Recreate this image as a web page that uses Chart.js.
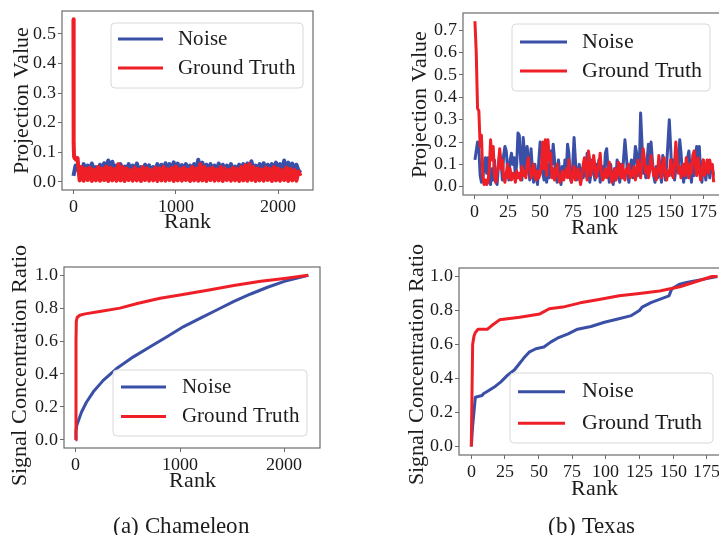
<!DOCTYPE html>
<html>
<head>
<meta charset="utf-8">
<script src="https://cdn.jsdelivr.net/npm/chart.js@4.4.0/dist/chart.umd.min.js"></script>
<style>
  @font-face {
    font-family: 'PaperSerif';
    src: local('Liberation Serif'), local('LiberationSerif'), local('LiberationSerif-Regular'), local('Liberation Serif Regular');
  }
  html, body { margin: 0; padding: 0; width: 719px; height: 535px; overflow: hidden; background: #fff; }
  canvas { position: absolute; }
  .caption {
    position: absolute; font-family: PaperSerif, 'Liberation Serif', 'Times New Roman', serif;
    font-size: 23px; line-height: 23px; color: #1c1c1c; white-space: nowrap;
    transform: translateX(-50%);
  }
</style>
</head>
<body>
<canvas id="chamProj" width="340" height="250" style="left:0;top:0"></canvas>
<canvas id="texasProj" width="340" height="255" style="left:400px;top:0"></canvas>
<canvas id="chamRatio" width="345" height="300" style="left:0;top:235px"></canvas>
<canvas id="texasRatio" width="345" height="300" style="left:395px;top:235px"></canvas>
<div class="caption" style="left:181px;top:514px">(a) Chameleon</div>
<div class="caption" style="left:591px;top:514px">(b) Texas</div>

<script>
// ---- data ----

// Chameleon, projection value. Noise sampled every 20 ranks from rank 0
const CHAM_STEP = 20;
const chamNoise = [
  0.02, 0.055, 0.04, 0.05, 0.036, 0.06, 0.04, 0.055, 0.038, 0.062,
  0.04, 0.05, 0.036, 0.058, 0.04, 0.063, 0.042, 0.072, 0.042, 0.068,
  0.04, 0.055, 0.036, 0.06, 0.04, 0.052, 0.042, 0.06, 0.04, 0.055,
  0.039, 0.062, 0.04, 0.05, 0.042, 0.058, 0.04, 0.056, 0.036, 0.05,
  0.04, 0.06, 0.042, 0.058, 0.04, 0.063, 0.036, 0.06, 0.04, 0.066,
  0.042, 0.062, 0.04, 0.057, 0.036, 0.06, 0.04, 0.055, 0.042, 0.06,
  0.04, 0.075, 0.039, 0.065, 0.04, 0.058, 0.042, 0.06, 0.04, 0.055,
  0.036, 0.062, 0.04, 0.058, 0.042, 0.055, 0.04, 0.06, 0.036, 0.052,
  0.04, 0.058, 0.042, 0.06, 0.04, 0.062, 0.036, 0.07, 0.04, 0.055,
  0.042, 0.06, 0.04, 0.063, 0.036, 0.058, 0.04, 0.06, 0.042, 0.065,
  0.04, 0.06, 0.036, 0.072, 0.04, 0.065, 0.042, 0.062, 0.04, 0.058,
  0.039, 0.03
];
// ground truth: the spike at the start, then every 20 ranks from rank 60
const chamTruthHeadRank = [0, 1, 3, 6, 12, 25, 40];
const chamTruthHead = [0.55, 0.3, 0.13, 0.085, 0.08, 0.075, 0.08];
const CHAM_TRUTH_START = 60;
const chamTruthBody = [
  0.005, 0.05, 0.004, 0.045, 0.006, 0.048, 0.003, 0.042, 0.005, 0.05,
  0.004, 0.045, 0.006, 0.052, 0.003, 0.048, 0.005, 0.044, 0.004, 0.06,
  0.005, 0.05, 0.003, 0.045, 0.006, 0.04, 0.004, 0.048, 0.005, 0.042,
  0.003, 0.05, 0.006, 0.045, 0.004, 0.04, 0.005, 0.048, 0.003, 0.045,
  0.005, 0.05, 0.004, 0.043, 0.006, 0.047, 0.003, 0.052, 0.005, 0.044,
  0.004, 0.048, 0.006, 0.042, 0.003, 0.05, 0.005, 0.045, 0.004, 0.06,
  0.005, 0.05, 0.003, 0.044, 0.006, 0.048, 0.004, 0.042, 0.005, 0.05,
  0.003, 0.045, 0.006, 0.04, 0.004, 0.048, 0.005, 0.044, 0.003, 0.05,
  0.005, 0.055, 0.004, 0.06, 0.006, 0.05, 0.003, 0.045, 0.005, 0.042,
  0.004, 0.048, 0.006, 0.044, 0.003, 0.05, 0.005, 0.045, 0.004, 0.04,
  0.006, 0.048, 0.003, 0.044, 0.005, 0.04, 0.004, 0.035, 0.02
];

// Texas, projection value, one value per rank 0..183
const texasNoise = [
  0.12, 0.16, 0.20, 0.17, 0.05, 0.02, 0.03, 0.10, 0.13, 0.06,
  0.13, 0.04, 0.01, 0.08, 0.03, 0.12, 0.02, 0.01, 0.09, 0.15,
  0.12, 0.03, 0.14, 0.18, 0.16, 0.08, 0.03, 0.12, 0.15, 0.10,
  0.13, 0.05, 0.10, 0.24, 0.23, 0.12, 0.03, 0.22, 0.15, 0.05,
  0.18, 0.12, 0.03, 0.17, 0.08, 0.02, 0.10, 0.04, 0.01, 0.12,
  0.20, 0.18, 0.06, 0.03, 0.08, 0.02, 0.10, 0.04, 0.16, 0.10,
  0.19, 0.12, 0.05, 0.02, 0.12, 0.07, 0.01, 0.09, 0.04, 0.12,
  0.06, 0.19, 0.15, 0.04, 0.02, 0.10, 0.22, 0.12, 0.03, 0.06,
  0.10, 0.02, 0.08, 0.04, 0.11, 0.05, 0.15, 0.10, 0.02, 0.06,
  0.12, 0.08, 0.03, 0.10, 0.05, 0.12, 0.02, 0.06, 0.09, 0.04,
  0.15, 0.17, 0.08, 0.02, 0.10, 0.05, 0.01, 0.08, 0.03, 0.12,
  0.06, 0.02, 0.10, 0.04, 0.13, 0.21, 0.14, 0.06, 0.02, 0.09,
  0.12, 0.04, 0.10, 0.18, 0.15, 0.05, 0.08, 0.33, 0.20, 0.06,
  0.10, 0.04, 0.12, 0.19, 0.08, 0.20, 0.12, 0.05, 0.02, 0.09,
  0.04, 0.11, 0.06, 0.02, 0.14, 0.08, 0.03, 0.10, 0.20, 0.30,
  0.18, 0.05, 0.12, 0.03, 0.08, 0.16, 0.10, 0.21, 0.15, 0.06,
  0.02, 0.10, 0.04, 0.13, 0.16, 0.08, 0.02, 0.11, 0.05, 0.14,
  0.18, 0.10, 0.18, 0.06, 0.02, 0.12, 0.08, 0.03, 0.09, 0.11,
  0.04, 0.10, 0.08, 0.05
];
const texasTruth = [
  0.74, 0.60, 0.35, 0.34, 0.18, 0.23, 0.05, 0.01, 0.03, 0.01,
  0.02, 0.08, 0.21, 0.12, 0.18, 0.05, 0.02, 0.06, 0.10, 0.17,
  0.08, 0.12, 0.04, 0.02, 0.06, 0.10, 0.04, 0.08, 0.03, 0.06,
  0.05, 0.02, 0.07, 0.04, 0.06, 0.03, 0.09, 0.05, 0.07, 0.04,
  0.10, 0.13, 0.08, 0.04, 0.06, 0.10, 0.05, 0.03, 0.07, 0.04,
  0.06, 0.09, 0.20, 0.08, 0.21, 0.05, 0.21, 0.12, 0.15, 0.04,
  0.08, 0.03, 0.06, 0.10, 0.05, 0.02, 0.04, 0.07, 0.03, 0.05,
  0.08, 0.04, 0.12, 0.06, 0.02, 0.05, 0.09, 0.03, 0.06, 0.08,
  0.04, 0.01, 0.06, 0.10, 0.13, 0.07, 0.03, 0.16, 0.12, 0.05,
  0.08, 0.14, 0.09, 0.04, 0.07, 0.10, 0.15, 0.06, 0.03, 0.05,
  0.08, 0.04, 0.06, 0.11, 0.05, 0.02, 0.06, 0.08, 0.03, 0.05,
  0.11, 0.07, 0.04, 0.10, 0.05, 0.03, 0.08, 0.06, 0.10, 0.04,
  0.07, 0.05, 0.09, 0.03, 0.06, 0.12, 0.08, 0.04, 0.10, 0.17,
  0.12, 0.06, 0.09, 0.04, 0.07, 0.14, 0.10, 0.05, 0.08, 0.03,
  0.06, 0.14, 0.09, 0.04, 0.08, 0.13, 0.06, 0.03, 0.07, 0.05,
  0.12, 0.08, 0.04, 0.10, 0.20, 0.12, 0.06, 0.09, 0.04, 0.07,
  0.10, 0.05, 0.13, 0.08, 0.04, 0.10, 0.06, 0.14, 0.16, 0.09,
  0.05, 0.13, 0.08, 0.03, 0.07, 0.12, 0.05, 0.09, 0.12, 0.06,
  0.12, 0.08, 0.10, 0.02
];

// signal concentration ratio (rank, value) pairs
const chamRatioNoiseRank = [0, 3, 10, 55, 103, 167, 264, 392, 553, 714, 875, 1035, 1196, 1357, 1517, 1678, 1839, 2000, 2230];
const chamRatioNoise = [0, 0.05, 0.086, 0.167, 0.228, 0.29, 0.361, 0.433, 0.504, 0.565, 0.626, 0.688, 0.739, 0.79, 0.841, 0.886, 0.927, 0.963, 1.0];
const chamRatioTruthRank = [0, 3, 6, 15, 40, 90, 230, 424, 600, 810, 1000, 1292, 1515, 1774, 2000, 2230];
const chamRatioTruth = [0, 0.6, 0.72, 0.745, 0.757, 0.765, 0.78, 0.8, 0.83, 0.86, 0.88, 0.912, 0.937, 0.963, 0.98, 1.0];

const texasRatioNoiseRank = [0, 1, 3, 8, 9, 13, 18, 22, 27, 32, 36, 39, 43, 48, 54, 59, 64, 72, 79, 89, 99, 109, 119, 125, 127, 134, 144, 147, 149, 155, 160, 170, 183];
const texasRatioNoise = [0, 0.12, 0.29, 0.30, 0.31, 0.33, 0.355, 0.38, 0.42, 0.45, 0.49, 0.52, 0.555, 0.575, 0.585, 0.614, 0.637, 0.663, 0.69, 0.706, 0.731, 0.75, 0.77, 0.8, 0.82, 0.848, 0.877, 0.886, 0.926, 0.955, 0.965, 0.98, 1.0];
const texasRatioTruthRank = [0, 1, 2, 3, 5, 12, 15, 21, 36, 51, 58, 68, 81, 95, 110, 125, 140, 155, 165, 179, 183];
const texasRatioTruth = [0, 0.6, 0.65, 0.67, 0.69, 0.69, 0.71, 0.745, 0.76, 0.78, 0.81, 0.82, 0.845, 0.865, 0.887, 0.9, 0.915, 0.94, 0.965, 1.0, 1.0];

const seriesLabels = ['Noise', 'Ground Truth'];

// tick labels
const chamRankTicks = [0, 1000, 2000];
const texasRankTicks = [0, 25, 50, 75, 100, 125, 150, 175];
const chamProjTicks = [0.0, 0.1, 0.2, 0.3, 0.4, 0.5];
const texasProjTicks = [0.0, 0.1, 0.2, 0.3, 0.4, 0.5, 0.6, 0.7];
const ratioTicks = [0.0, 0.2, 0.4, 0.6, 0.8, 1.0];

// ---- styling ----
const FONT = "PaperSerif, 'Liberation Serif', 'Times New Roman', serif";
const BLUE = '#3a4fa6';
const RED = '#ee1f26';
const FRAME = '#6b6b6b';
const TXT = '#1c1c1c';

function pairs(ranks, values) {
  return values.map((v, i) => ({ x: ranks[i], y: v }));
}
function stepped(values, start, step) {
  return values.map((v, i) => ({ x: start + i * step, y: v }));
}

// matplotlib-like full box round the plot area
const framePlugin = {
  id: 'frame',
  afterDatasetsDraw(chart) {
    const { ctx, chartArea: a } = chart;
    ctx.save();
    ctx.strokeStyle = FRAME;
    ctx.lineWidth = 1.2;
    ctx.strokeRect(a.left, a.top, a.right - a.left, a.bottom - a.top);
    ctx.restore();
  }
};

// y title drawn by hand, so a long title is not squeezed to the axis height
const yTitlePlugin = {
  id: 'yTitle',
  afterDraw(chart, args, opts) {
    const ctx = chart.ctx;
    ctx.save();
    ctx.translate(opts.x, opts.y);
    ctx.rotate(-Math.PI / 2);
    ctx.font = `${opts.size}px ${FONT}`;
    ctx.fillStyle = TXT;
    ctx.textAlign = 'center';
    ctx.textBaseline = 'middle';
    ctx.fillText(opts.text, 0, 0);
    ctx.restore();
  }
};

// legend box inside the plot
const boxLegendPlugin = {
  id: 'boxLegend',
  afterDraw(chart, args, opts) {
    const ctx = chart.ctx;
    ctx.save();
    ctx.beginPath();
    ctx.roundRect(opts.x, opts.y, opts.w, opts.h, 4);
    ctx.fillStyle = 'rgba(255,255,255,0.8)';
    ctx.fill();
    ctx.strokeStyle = '#d8d8d8';
    ctx.lineWidth = 1;
    ctx.stroke();
    ctx.font = `${opts.size}px ${FONT}`;
    ctx.textBaseline = 'middle';
    chart.data.datasets.forEach((ds, i) => {
      const y = opts.rows[i];
      ctx.strokeStyle = ds.borderColor;
      ctx.lineWidth = 3;
      ctx.beginPath();
      ctx.moveTo(opts.lineX[0], y);
      ctx.lineTo(opts.lineX[1], y);
      ctx.stroke();
      ctx.fillStyle = TXT;
      ctx.fillText(ds.label, opts.textX, y);
    });
    ctx.restore();
  }
};

function makePanel(id, p) {
  return new Chart(document.getElementById(id), {
    type: 'line',
    data: {
      datasets: [
        { label: seriesLabels[0], data: p.noise, borderColor: BLUE, borderWidth: p.lw, order: 1 },
        { label: seriesLabels[1], data: p.truth, borderColor: RED, borderWidth: p.lw, order: 0 }
      ]
    },
    options: {
      responsive: false,
      animation: false,
      elements: {
        point: { radius: 0 },
        line: { tension: 0, borderJoinStyle: 'round' }
      },
      layout: { padding: p.pad },
      scales: {
        x: {
          type: 'linear',
          min: p.x[0], max: p.x[1],
          afterBuildTicks: s => { s.ticks = p.xTicks.map(v => ({ value: v })); },
          afterFit: s => { s.height = p.xHeight; s.paddingLeft = 0; s.paddingRight = 0; },
          border: { display: false },
          grid: { display: true, drawOnChartArea: false, drawTicks: true, tickLength: 4, color: FRAME },
          ticks: {
            autoSkip: false, maxRotation: 0,
            padding: 2, color: TXT, font: { size: 18 },
            callback: v => String(v)
          },
          title: { display: true, text: 'Rank', color: TXT, font: { size: 22 }, padding: { top: 0, bottom: p.xTitlePad } }
        },
        y: {
          min: p.y[0], max: p.y[1],
          afterBuildTicks: s => { s.ticks = p.yTicks.map(v => ({ value: v })); },
          afterFit: s => { s.width = p.yWidth; s.paddingTop = 0; s.paddingBottom = 0; },
          border: { display: false },
          grid: { display: true, drawOnChartArea: false, drawTicks: true, tickLength: 4, color: FRAME },
          ticks: {
            autoSkip: false, padding: 2, color: TXT, font: { size: 18 },
            callback: v => v.toFixed(1)
          }
        }
      },
      plugins: {
        legend: { display: false },
        tooltip: { enabled: false },
        yTitle: p.yTitle,
        boxLegend: p.legend
      }
    },
    plugins: [framePlugin, yTitlePlugin, boxLegendPlugin]
  });
}

function drawAll() {
  Chart.defaults.font.family = FONT;

  makePanel('chamProj', {
    noise: stepped(chamNoise, 0, CHAM_STEP),
    truth: pairs(chamTruthHeadRank, chamTruthHead).concat(stepped(chamTruthBody, CHAM_TRUTH_START, CHAM_STEP)),
    lw: 4,
    pad: { left: 0, top: 11, right: 27, bottom: 0 },
    yWidth: 62, xHeight: 60, xTitlePad: 14.8,
    x: [-112, 2342], y: [-0.0275, 0.5775],
    xTicks: chamRankTicks, yTicks: chamProjTicks,
    yTitle: { text: 'Projection Value', x: 22.6, y: 100.5, size: 22 },
    legend: { x: 111, y: 23, w: 192, h: 65, lineX: [118, 163], textX: 178, rows: [39, 68], size: 21 }
  });

  makePanel('texasProj', {
    noise: stepped(texasNoise, 0, 1),
    truth: stepped(texasTruth, 0, 1),
    lw: 3,
    pad: { left: 0, top: 13, right: 14.4, bottom: 0 },
    yWidth: 63, xHeight: 60, xTitlePad: 13.8,
    x: [-9.15, 192.15], y: [-0.037, 0.777],
    xTicks: texasRankTicks, yTicks: texasProjTicks,
    yTitle: { text: 'Projection Value', x: 20.6, y: 104, size: 22 },
    legend: { x: 112, y: 24, w: 198, h: 67, lineX: [120, 167], textX: 182, rows: [42, 71], size: 21.5 }
  });

  makePanel('chamRatio', {
    noise: pairs(chamRatioNoiseRank, chamRatioNoise),
    truth: pairs(chamRatioTruthRank, chamRatioTruth),
    lw: 3,
    pad: { left: 0, top: 32, right: 25, bottom: 0 },
    yWidth: 64, xHeight: 87, xTitlePad: 40.8,
    x: [-112, 2342], y: [-0.05, 1.05],
    xTicks: chamRankTicks, yTicks: ratioTicks,
    yTitle: { text: 'Signal Concentration Ratio', x: 20.6, y: 130, size: 22 },
    legend: { x: 113, y: 135, w: 194, h: 66, lineX: [121, 166], textX: 182, rows: [152, 181.5], size: 21 }
  });

  makePanel('texasRatio', {
    noise: pairs(texasRatioNoiseRank, texasRatioNoise),
    truth: pairs(texasRatioTruthRank, texasRatioTruth),
    lw: 3,
    pad: { left: 0, top: 33, right: 10.3, bottom: 0 },
    yWidth: 64, xHeight: 80, xTitlePad: 32.3,
    x: [-9.15, 192.15], y: [-0.05, 1.05],
    xTicks: texasRankTicks, yTicks: ratioTicks,
    yTitle: { text: 'Signal Concentration Ratio', x: 22, y: 129.7, size: 22 },
    legend: { x: 115, y: 138, w: 203, h: 70, lineX: [123, 170], textX: 187, rows: [156.7, 188.3], size: 21.5 }
  });
}

document.fonts.load('22px PaperSerif').then(drawAll, drawAll);
</script>
</body>
</html>
